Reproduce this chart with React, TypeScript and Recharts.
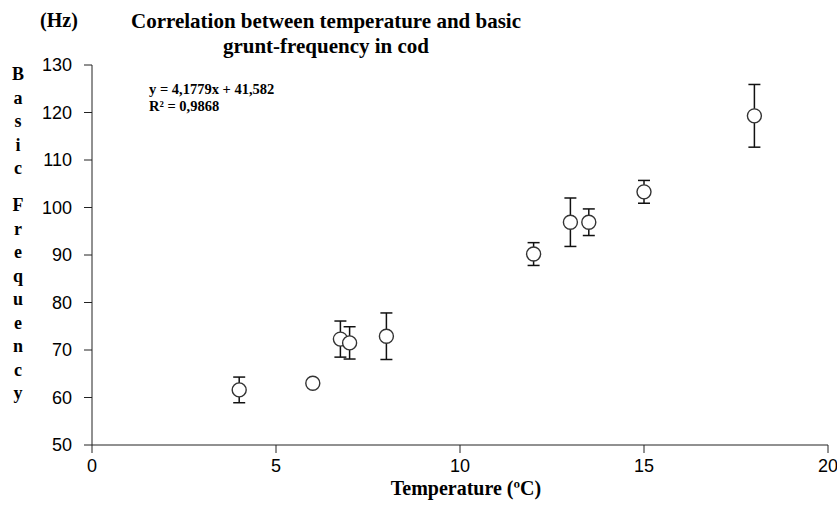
import { ScatterChart, Scatter, XAxis, YAxis, ErrorBar, Label } from 'recharts';

// values
const temperature = [4, 6, 6.75, 7, 8, 12, 13, 13.5, 15, 18];
const frequency = [61.6, 63, 72.3, 71.5, 72.9, 90.2, 96.9, 96.9, 103.3, 119.3];
const deviation = [2.7, 0.4, 3.8, 3.4, 4.9, 2.4, 5.1, 2.8, 2.4, 6.6];

const xTicks = [0, 5, 10, 15, 20];
const yTicks = [50, 60, 70, 80, 90, 100, 110, 120, 130];

const titleLines = ['Correlation between temperature and basic', 'grunt-frequency in cod'];
const yLabelLetters = ['B', 'a', 's', 'i', 'c', ' ', 'F', 'r', 'e', 'q', 'u', 'e', 'n', 'c', 'y'];
const equation = ['y = 4,1779x + 41,582', 'R² = 0,9868'];

const data = temperature.map((t, i) => ({ t, f: frequency[i], err: deviation[i] }));

const serif = '"Liberation Serif", "Times New Roman", serif';
const sans = '"Liberation Sans", Arial, sans-serif';

// open circle marker
function OpenCircle(props: any) {
  const { cx, cy } = props;
  return <circle cx={cx} cy={cy} r={7} fill="#fff" stroke="#333" strokeWidth={1.4} />;
}

export default function App() {
  // y-label letters: stacked one under the other, the blank is a shorter gap
  let yPos = 80;
  const letterY = yLabelLetters.map((ch) => {
    const y = yPos;
    yPos += ch === ' ' ? 13.5 : 23.5;
    return y;
  });

  return (
    <div style={{ position: 'absolute', left: 0, top: 0, width: 837, height: 510, background: '#fff' }}>
      <ScatterChart width={837} height={510} margin={{ top: 65, right: 9, left: 18, bottom: 35 }}>
        <XAxis
          type="number"
          dataKey="t"
          domain={[0, 20]}
          ticks={xTicks}
          tickSize={8}
          tickMargin={6}
          stroke="#222"
          tick={{ fill: '#000', fontSize: 18, fontFamily: sans }}
          height={30}
        >
          <Label
            value="Temperature (ºC)"
            position="bottom"
            offset={6}
            dx={6}
            style={{ fontFamily: serif, fontWeight: 'bold', fontSize: 20, fill: '#000' }}
          />
        </XAxis>
        <YAxis
          type="number"
          dataKey="f"
          domain={[50, 130]}
          ticks={yTicks}
          tickSize={8}
          tickMargin={12}
          stroke="#222"
          tick={{ fill: '#000', fontSize: 18, fontFamily: sans }}
          width={74}
        />
        <Scatter data={data} shape={<OpenCircle />} isAnimationActive={false}>
          <ErrorBar dataKey="err" direction="y" width={6} stroke="#111" strokeWidth={1.5} />
        </Scatter>
      </ScatterChart>

      <svg
        width={837}
        height={510}
        style={{ position: 'absolute', left: 0, top: 0, pointerEvents: 'none' }}
      >
        <text x={59} y={27} textAnchor="middle" fontFamily={serif} fontWeight="bold" fontSize={20} fill="#000">
          (Hz)
        </text>
        {titleLines.map((line, i) => (
          <text
            key={line}
            x={326}
            y={28 + i * 25}
            textAnchor="middle"
            fontFamily={serif}
            fontWeight="bold"
            fontSize={21}
            fill="#000"
          >
            {line}
          </text>
        ))}
        {yLabelLetters.map((ch, i) =>
          ch === ' ' ? null : (
            <text
              key={i}
              x={18}
              y={letterY[i]}
              textAnchor="middle"
              fontFamily={serif}
              fontWeight="bold"
              fontSize={18}
              fill="#000"
            >
              {ch}
            </text>
          )
        )}
        {equation.map((line, i) => (
          <text
            key={line}
            x={149}
            y={94 + i * 17}
            fontFamily={serif}
            fontWeight="bold"
            fontSize={14.5}
            fill="#000"
          >
            {line}
          </text>
        ))}
      </svg>
    </div>
  );
}
